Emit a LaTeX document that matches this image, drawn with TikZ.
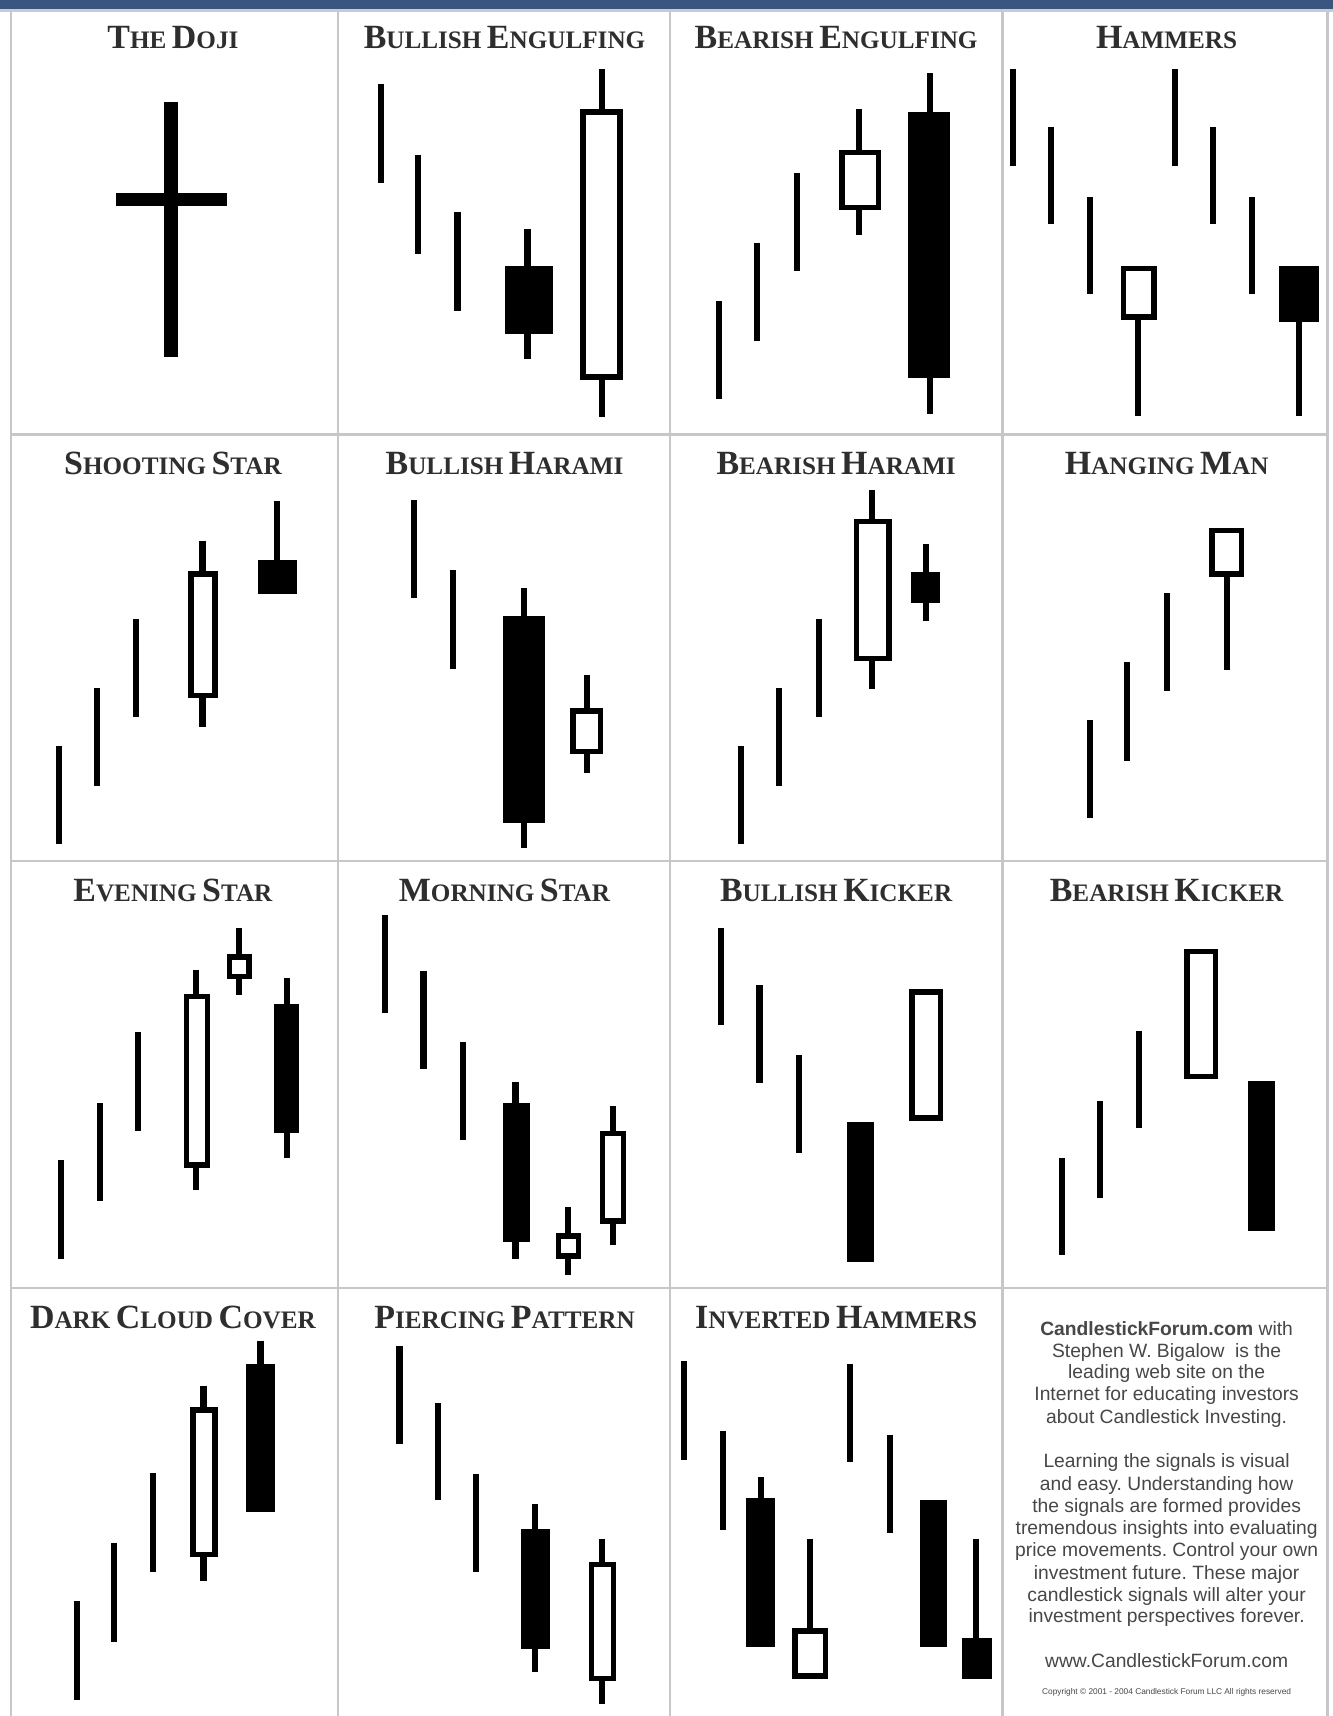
\documentclass[tikz,border=0pt]{standalone}
\usepackage{fontspec}
\setmainfont{Liberation Serif}
\newfontfamily\txtfont{Liberation Sans}
\definecolor{topblue}{RGB}{58,86,126}
\newcommand\SCw[2]{{\fontsize{15.5}{16}\selectfont #1}{\fontsize{11.5}{12}\selectfont #2}}
\newcommand\wk[3]{\draw[wickline] (#1,#2) -- (#1,#3);}
\newcommand\wb[4]{\draw[wbox] ({#1+2.5},{#3+2.5}) rectangle ({#2-2.5},{#4-2.5});}
\newcommand\bb[4]{\fill[black] (#1,#3) rectangle (#2,#4);}
\frenchspacing
\begin{document}
\begin{tikzpicture}[x=0.5pt,y=-0.5pt,
  wickline/.style={line width=2.8pt,draw=black},
  wbox/.style={line width=2.5pt,draw=black,fill=white},
  gridline/.style={line width=1pt,draw=black!22},
  title/.style={font=\bfseries,text=black!82,anchor=base,inner sep=0pt},
  blurb/.style={font=\txtfont\fontsize{8.8}{10}\selectfont,text=black!72,anchor=base,inner sep=0pt}]
\useasboundingbox (0,0) rectangle (1218,1568);
\fill[white] (0,0) rectangle (1218,1568);
% top bar
\fill[topblue] (0,0) rectangle (1218,8);
\fill[topblue!30] (0,8) rectangle (1218,11);
% grid
\foreach \gx in {10,309,612,916,1213} \draw[gridline] (\gx,11) -- (\gx,1568);
\foreach \gy in {397,787,1177} \draw[gridline] (10,\gy) -- (1213,\gy);
% titles
\node[title] (t11) at (158,44) {\SCw{T}{HE} \SCw{D}{OJI}};
\node[title] (t12) at (461,44) {\SCw{B}{ULLISH} \SCw{E}{NGULFING}};
\node[title] (t13) at (764,44) {\SCw{B}{EARISH} \SCw{E}{NGULFING}};
\node[title] (t14) at (1066,44) {\SCw{H}{AMMERS}};
\node[title] (t21) at (158,434) {\SCw{S}{HOOTING} \SCw{S}{TAR}};
\node[title] (t22) at (461,434) {\SCw{B}{ULLISH} \SCw{H}{ARAMI}};
\node[title] (t23) at (764,434) {\SCw{B}{EARISH} \SCw{H}{ARAMI}};
\node[title] (t24) at (1066,434) {\SCw{H}{ANGING} \SCw{M}{AN}};
\node[title] (t31) at (158,824) {\SCw{E}{VENING} \SCw{S}{TAR}};
\node[title] (t32) at (461,824) {\SCw{M}{ORNING} \SCw{S}{TAR}};
\node[title] (t33) at (764,824) {\SCw{B}{ULLISH} \SCw{K}{ICKER}};
\node[title] (t34) at (1066,824) {\SCw{B}{EARISH} \SCw{K}{ICKER}};
\node[title] (t41) at (158,1214) {\SCw{D}{ARK} \SCw{C}{LOUD} \SCw{C}{OVER}};
\node[title] (t42) at (461,1214) {\SCw{P}{IERCING} \SCw{P}{ATTERN}};
\node[title] (t43) at (764,1214) {\SCw{I}{NVERTED} \SCw{H}{AMMERS}};
% Doji
\draw[line width=6.5pt] (156,93) -- (156,326);
\draw[line width=6pt] (106,182) -- (207,182);
% Bullish engulfing
\wk{348}{77}{167}
\wk{382}{142}{232}
\wk{418}{194}{284}
\wk{482}{209}{328} \bb{461}{505}{243}{305}
\wk{550}{63}{381} \wb{530}{569}{100}{347}
% Bearish engulfing
\wk{657}{275}{365}
\wk{692}{222}{312}
\wk{728}{158}{248}
\wk{785}{100}{215} \wb{767}{805}{137}{192}
\wk{850}{67}{378} \bb{830}{868}{102}{345}
% Hammers
\wk{926}{63}{152}
\wk{960}{116}{205}
\wk{996}{180}{269}
\wk{1040}{250}{380} \wb{1024}{1057}{243}{292}
\wk{1074}{63}{152}
\wk{1108}{116}{205}
\wk{1144}{180}{269}
\wk{1187}{250}{380} \bb{1169}{1205}{243}{294}
% Shooting star
\wk{54}{682}{771}
\wk{89}{629}{718}
\wk{124}{566}{655}
\wk{185}{494}{664} \wb{172}{199}{522}{638}
\wk{253}{458}{520} \bb{236}{271}{512}{543}
% Bullish harami
\wk{378}{457}{546}
\wk{414}{521}{611}
\wk{479}{537}{775} \bb{460}{498}{563}{752}
\wk{536}{617}{706} \wb{521}{551}{647}{689}
% Bearish harami
\wk{677}{682}{771}
\wk{712}{629}{718}
\wk{748}{566}{655}
\wk{797}{448}{630} \wb{780}{815}{474}{604}
\wk{846}{497}{567} \bb{832}{859}{523}{551}
% Hanging man
\wk{996}{658}{747}
\wk{1030}{605}{695}
\wk{1066}{542}{631}
\wk{1121}{510}{612} \wb{1105}{1137}{482}{527}
% Evening star
\wk{56}{1060}{1150}
\wk{91}{1008}{1097}
\wk{126}{943}{1033}
\wk{179}{886}{1087} \wb{168}{192}{908}{1067}
\wk{218}{848}{909} \wb{207}{230}{872}{895}
\wk{262}{894}{1058} \bb{250}{273}{917}{1035}
% Morning star
\wk{352}{836}{926}
\wk{387}{887}{977}
\wk{423}{952}{1042}
\wk{471}{989}{1150} \bb{460}{484}{1008}{1135}
\wk{519}{1103}{1165} \wb{508}{531}{1127}{1150}
\wk{560}{1011}{1138} \wb{548}{572}{1033}{1118}
% Bullish kicker
\wk{659}{848}{937}
\wk{694}{900}{990}
\wk{730}{964}{1054}
\bb{774}{799}{1025}{1153}
\wb{831}{862}{904}{1024}
% Bearish kicker
\wk{970}{1058}{1147}
\wk{1005}{1006}{1095}
\wk{1041}{942}{1031}
\wb{1082}{1113}{867}{986}
\bb{1140}{1165}{988}{1125}
% Dark cloud cover
\wk{70}{1463}{1553}
\wk{104}{1410}{1500}
\wk{140}{1346}{1436}
\wk{186}{1266}{1445} \wb{174}{199}{1286}{1423}
\wk{238}{1225}{1250} \bb{225}{251}{1246}{1382}
% Piercing pattern
\wk{365}{1230}{1319}
\wk{400}{1282}{1371}
\wk{435}{1347}{1436}
\wk{489}{1374}{1528} \bb{476}{503}{1397}{1507}
\wk{550}{1406}{1557} \wb{538}{563}{1427}{1536}
% Inverted hammers
\wk{625}{1244}{1334}
\wk{661}{1308}{1398}
\wk{695}{1350}{1372} \bb{682}{708}{1369}{1505}
\wk{740}{1406}{1490} \wb{724}{757}{1488}{1534}
\wk{777}{1246}{1336}
\wk{813}{1311}{1401}
\bb{841}{865}{1371}{1505}
\wk{892}{1406}{1500} \bb{879}{906}{1497}{1534}
% Text block
\node[blurb] (b1) at (1066,1220) {\textbf{CandlestickForum.com} with};
\node[blurb] (b2) at (1066,1240) {Stephen W. Bigalow\ \ is the};
\node[blurb] (b3) at (1066,1260) {leading web site on the};
\node[blurb] (b4) at (1066,1280) {Internet for educating investors};
\node[blurb] (b5) at (1066,1301) {about Candlestick Investing.};
\node[blurb] (b6) at (1066,1341) {Learning the signals is visual};
\node[blurb] (b7) at (1066,1362) {and easy. Understanding how};
\node[blurb] (b8) at (1066,1382) {the signals are formed provides};
\node[blurb] (b9) at (1066,1402) {tremendous insights into evaluating};
\node[blurb] (b10) at (1066,1422) {price movements. Control your own};
\node[blurb] (b11) at (1066,1443) {investment future. These major};
\node[blurb] (b12) at (1066,1463) {candlestick signals will alter your};
\node[blurb] (b13) at (1066,1483) {investment perspectives forever.};
\node[blurb] (b14) at (1066,1524) {www.CandlestickForum.com};
\node[blurb,font=\txtfont\fontsize{3.8}{4}\selectfont] (b15) at (1066,1548) {Copyright \textcopyright{} 2001 - 2004 Candlestick Forum LLC All rights reserved};
\end{tikzpicture}
\end{document}
